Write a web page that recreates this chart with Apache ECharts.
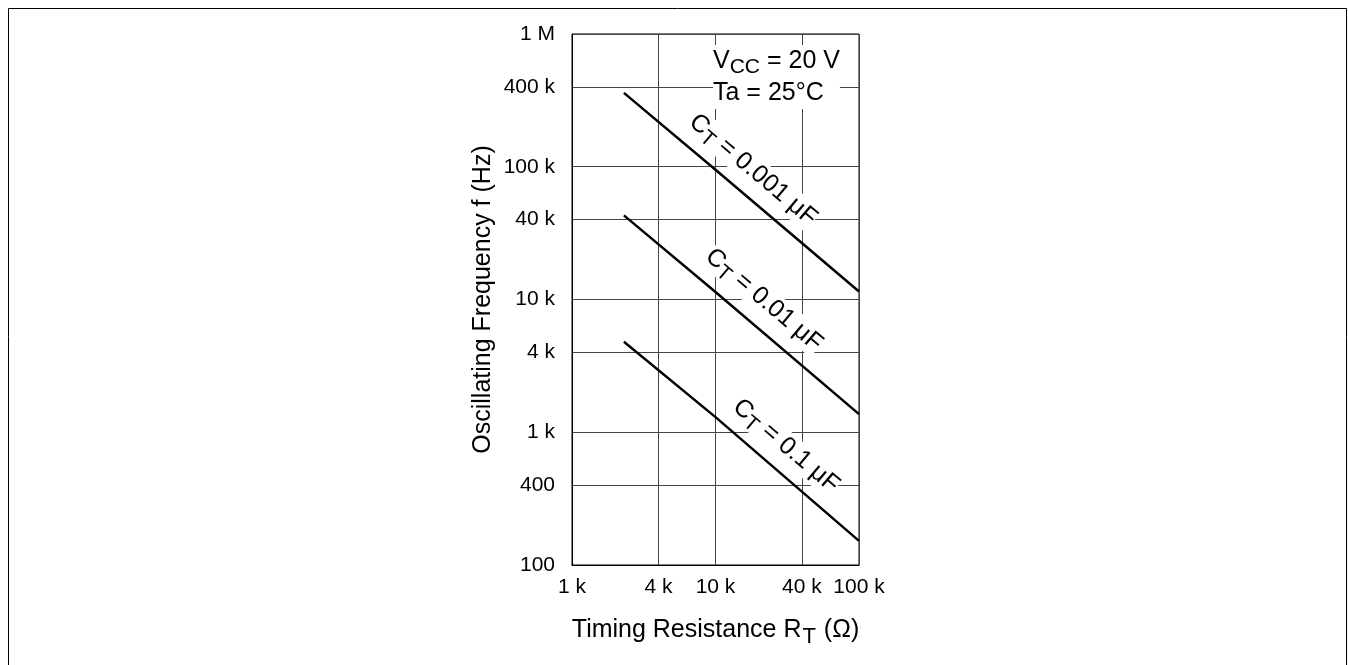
<!DOCTYPE html>
<html>
<head>
<meta charset="utf-8">
<script src="https://cdn.jsdelivr.net/npm/echarts@6/dist/echarts.min.js"></script>
<style>
  html, body { margin: 0; padding: 0; background: #fff; }
  #chart { width: 1348px; height: 665px; }
</style>
</head>
<body>
<div id="chart"></div>
<script>
// timing resistance (ohm) and frequency (Hz)
const resistance = [2300, 10000, 100000]
const freq001 = [360000, 95000, 11500]   // CT = 0.001 uF
const freq01 = [43000, 11400, 1370]      // CT = 0.01 uF
const freq1 = [4800, 1300, 152]          // CT = 0.1 uF

const xTicks = [1000, 4000, 10000, 40000, 100000]
const yTicks = [100, 400, 1000, 4000, 10000, 40000, 100000, 400000, 1000000]

const font = 'Arial, "Liberation Sans", sans-serif'

function fmt(v) {
  if (v >= 1000000) return (v / 1000000) + ' M'
  if (v >= 1000) return (v / 1000) + ' k'
  return String(v)
}

function pairs(ys) {
  return resistance.map((r, i) => [r, ys[i]])
}

const chart = echarts.init(document.getElementById('chart'))

const lineSeries = (name, ys) => ({
  name,
  type: 'line',
  data: pairs(ys),
  symbol: 'none',
  lineStyle: { color: '#000', width: 2.5 },
  silent: true
})

chart.setOption({
  animation: false,
  grid: {
    left: 572, top: 34, width: 287, height: 531,
    show: true, borderColor: '#000', borderWidth: 1
  },
  xAxis: {
    type: 'log', logBase: 10, min: 1000, max: 100000,
    name: '{a|Timing Resistance R}{s|T}{a| (Ω)}',
    nameLocation: 'middle', nameGap: 50,
    nameTextStyle: {
      rich: {
        a: { fontFamily: font, fontSize: 25, color: '#000', lineHeight: 30 },
        s: { fontFamily: font, fontSize: 22, color: '#000', lineHeight: 30, padding: [14, 1, 0, 1] }
      }
    },
    axisLine: { lineStyle: { color: '#000' } },
    axisTick: { show: false, customValues: xTicks },
    axisLabel: { customValues: xTicks, formatter: fmt, color: '#000', fontFamily: font, fontSize: 21, margin: 12 },
    splitLine: { show: true, lineStyle: { color: '#444', width: 1 } }
  },
  yAxis: {
    type: 'log', logBase: 10, min: 100, max: 1000000,
    name: 'Oscillating Frequency f (Hz)',
    nameLocation: 'middle', nameGap: 76,
    nameTextStyle: { fontFamily: font, fontSize: 25, color: '#000' },
    axisLine: { lineStyle: { color: '#000' } },
    axisTick: { show: false, customValues: yTicks },
    axisLabel: { customValues: yTicks, formatter: fmt, color: '#000', fontFamily: font, fontSize: 21, margin: 17 },
    splitLine: { show: true, lineStyle: { color: '#444', width: 1 } }
  },
  series: [
    lineSeries('0.001', freq001),
    lineSeries('0.01', freq01),
    lineSeries('0.1', freq1)
  ]
})

// curve labels and conditions
const angle = -Math.atan(0.847)
const rich = {
  a: { fontFamily: font, fontSize: 25, color: '#000', lineHeight: 28 },
  s: { fontFamily: font, fontSize: 21, color: '#000', lineHeight: 28, padding: [12, 0, 0, 0] }
}
function curveLabel(x, y, cap) {
  return {
    type: 'text', x, y, rotation: angle, z: 10,
    style: {
      text: '{a|C}{s|T}{a| = ' + cap + ' μF}',
      rich, align: 'center', verticalAlign: 'middle',
      backgroundColor: '#fff'
    }
  }
}

chart.setOption({
  graphic: [
    { type: 'line', shape: { x1: 8.5, y1: 8.5, x2: 1346.5, y2: 8.5 }, style: { stroke: '#000', lineWidth: 1 } },
    { type: 'line', shape: { x1: 8.5, y1: 8.5, x2: 8.5, y2: 665 }, style: { stroke: '#000', lineWidth: 1 } },
    { type: 'line', shape: { x1: 1346.5, y1: 8.5, x2: 1346.5, y2: 665 }, style: { stroke: '#000', lineWidth: 1 } },
    curveLabel(753, 170, '0.001'),
    curveLabel(764, 300, '0.01'),
    curveLabel(786, 446, '0.1'),
    {
      type: 'text', x: 713, y: 45, z: 10,
      style: {
        text: '{a|V}{s|CC}{a| = 20 V}\n{a|Ta = 25°C}',
        rich: {
          a: { fontFamily: font, fontSize: 25, color: '#000', lineHeight: 32 },
          s: { fontFamily: font, fontSize: 21, color: '#000', padding: [12, 0, 0, 0], lineHeight: 32 }
        },
        backgroundColor: '#fff'
      }
    }
  ]
})
</script>
</body>
</html>
